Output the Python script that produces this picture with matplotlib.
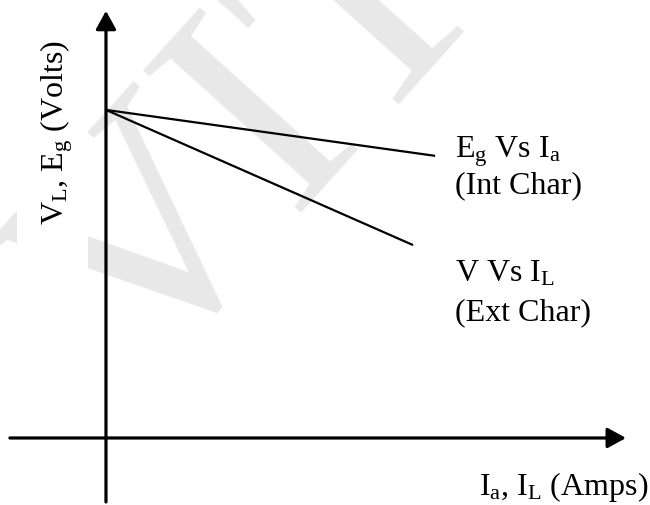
import matplotlib
matplotlib.use("Agg")
import matplotlib.pyplot as plt
from matplotlib.patches import Rectangle

plt.rcParams["font.family"] = ["Liberation Serif", "DejaVu Serif"]
plt.rcParams["mathtext.fontset"] = "custom"
plt.rcParams["mathtext.rm"] = "Liberation Serif"
plt.rcParams["mathtext.it"] = "Liberation Serif:italic"

# Load current (arbitrary units) and terminal / generated voltage (arbitrary units)
current_int = [0.0, 10.0]
emf_eg = [100.0, 86.0]          # internal characteristic, Eg vs Ia
current_ext = [0.0, 9.33]
voltage_v = [100.0, 58.8]       # external characteristic, V vs IL

label_int = ["E$_\\mathrm{g}$ Vs I$_\\mathrm{a}$", "(Int Char)"]
label_ext = ["V Vs I$_\\mathrm{L}$", "(Ext Char)"]
xlabel = "I$_\\mathrm{a}$, I$_\\mathrm{L}$ (Amps)"
ylabel = "V$_\\mathrm{L}$, E$_\\mathrm{g}$ (Volts)"

fig = plt.figure(figsize=(6.5, 5.05), dpi=100)
ax = fig.add_axes([0, 0, 1, 1])
ax.set_xlim(-3.22, 16.53)
ax.set_ylim(-20.43, 133.5)
ax.axis("off")

# faint watermark
ax.text(0.94, 14.0, "VIT", fontsize=233, color="#e8e8e8", rotation=48,
        rotation_mode="anchor", ha="left", va="baseline",
        family="Liberation Serif", zorder=0)

# white panel behind the vertical label
ax.add_patch(Rectangle((17 / 650, 1 - 300 / 505), 71 / 650, 300 / 505,
                       transform=ax.transAxes, facecolor="white",
                       edgecolor="none", zorder=1))

# coordinate axes with arrow heads
arrow = dict(arrowstyle="-|>,head_length=0.4,head_width=0.22", mutation_scale=28,
             lw=2.3, color="black", shrinkA=0, shrinkB=0)
ax.annotate("", xy=(0, 130.2), xytext=(0, -19.5), arrowprops=arrow, zorder=3)
ax.annotate("", xy=(15.8, 0), xytext=(-2.92, 0), arrowprops=arrow, zorder=3)

# characteristics
ax.plot(current_int, emf_eg, color="black", lw=1.6, solid_capstyle="butt", zorder=2)
ax.plot(current_ext, voltage_v, color="black", lw=1.6, solid_capstyle="butt", zorder=2)

fs = 23
ax.text(10.6, 85.4, label_int[0], fontsize=fs, ha="left", va="baseline", zorder=3)
ax.text(10.6, 74.7, label_int[1], fontsize=fs, ha="left", va="baseline", zorder=3)
ax.text(10.6, 47.6, label_ext[0], fontsize=fs, ha="left", va="baseline", zorder=3)
ax.text(10.6, 36.0, label_ext[1], fontsize=fs, ha="left", va="baseline", zorder=3)
ax.text(16.47, -17.4, xlabel, fontsize=fs, ha="right", va="baseline", zorder=3)
ax.text(-1.5, 93.0, ylabel, fontsize=fs, rotation=90, ha="center", va="center", zorder=3)

fig.savefig("out.png", dpi=100, facecolor="white")
